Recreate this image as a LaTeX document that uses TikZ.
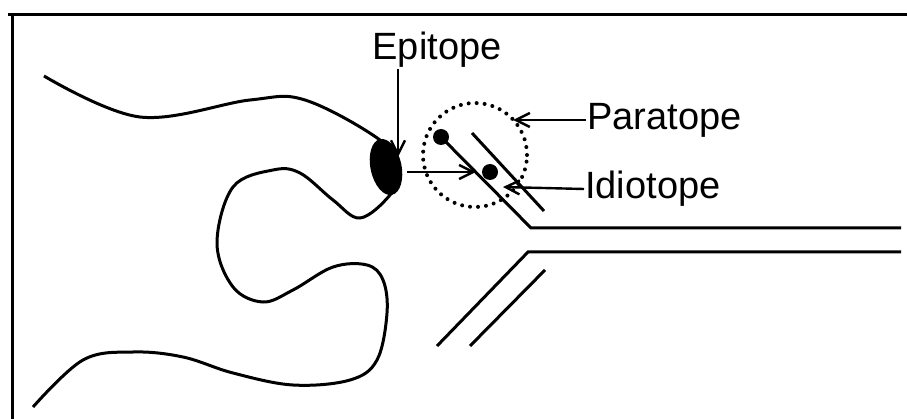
\documentclass[tikz,border=0pt]{standalone}
\usepackage{fontspec}
\setmainfont{Liberation Sans}
\usepackage{tikz}
\usetikzlibrary{positioning,shapes.geometric,arrows.meta,calc}

\begin{document}
\begin{tikzpicture}[
    x=1pt, y=-1pt,
    lbl/.style={
        inner sep=1pt,
        font=\fontsize{38}{42}\selectfont
    },
    arr/.style={
        -{Straight Barb[length=14pt,width=14pt,line width=2.4pt]},
        line width=2.4pt
    },
    chain/.style={line width=3pt},
    dot/.style={circle, fill=black, inner sep=0pt, minimum size=16pt}
]
\useasboundingbox (0,0) rectangle (907,419);

% frame
\draw[line width=3pt] (907,15) -- (8,15);
\draw[line width=3pt] (12,15) -- (12,419);

% antigen outline
\draw[line width=3pt] plot[smooth, tension=0.6] coordinates {
    (44,76) (140,117) (250,100) (305,100) (380,140) (400,170)
    (390,195) (360,218) (333,200) (300,173) (273,170) (233,187)
    (217,243) (233,287) (263,302) (293,290) (333,267) (367,265)
    (383,280) (387,313) (377,360) (350,380) (293,385) (233,373)
    (183,357) (133,352) (83,360) (33,407)};

\node[ellipse, fill=black, minimum width=31pt, minimum height=57pt,
      inner sep=0pt, rotate=12] (epitope) at (386,167) {};

% antibody arm
\node[circle, draw, line width=4pt, line cap=round,
      dash pattern=on 0pt off 8pt, minimum size=104pt,
      inner sep=0pt] (paratope) at (475,155) {};
\node[dot] (site1) at (441,137) {};
\node[dot] (site2) at (490,172) {};

\draw[chain] (site1.center) -- (531,228) -- (901,228);
\draw[chain] (472,133) -- (544,211);
\draw[chain] (437,346) -- (528,252) -- (901,252);
\draw[chain] (470,346) -- (545,270);

% labels
\node[lbl] (epilbl) at (437,50) {Epitope};
\node[lbl, anchor=west] (paralbl) at (586,120) {Paratope};
\node[lbl, anchor=west] (idiolbl) at (584,189) {Idiotope};
\coordinate (idiotip) at (503,187);

\draw[arr] (epilbl.south -| 398,0) -- (398,157);
\draw[arr, shorten <=6pt, shorten >=6pt] (epitope.east |- site2) -- (site2);
\draw[arr] (paralbl.west) -- (paralbl.west -| paratope.45);
\draw[arr] (idiolbl.west) -- (idiotip);

\end{tikzpicture}
\end{document}
